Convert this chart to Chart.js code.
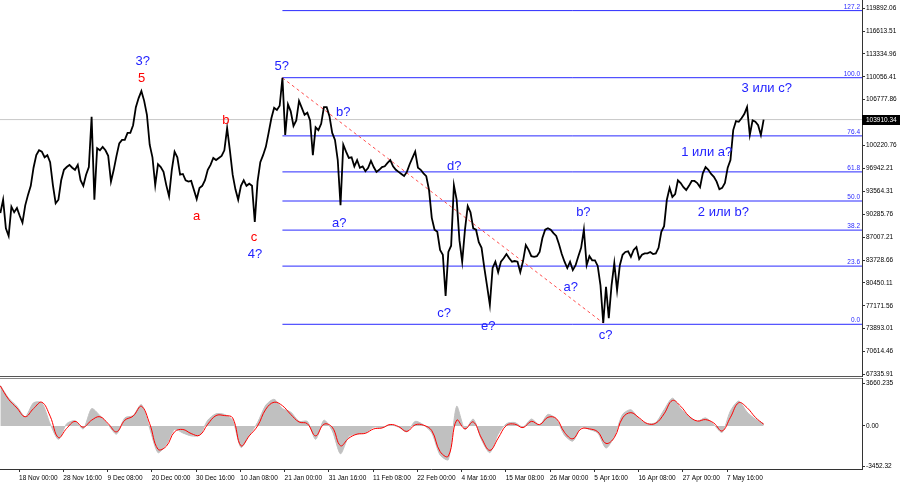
<!DOCTYPE html>
<html>
<head>
<meta charset="utf-8">
<script src="https://cdn.jsdelivr.net/npm/chart.js@4.4.0/dist/chart.umd.min.js"></script>
<style>
  body { margin: 0; background: #fff; width: 900px; height: 485px; overflow: hidden; position: relative; }
  #priceBox { position: absolute; left: 0; top: 0; width: 900px; height: 378px; }
  #oscBox { position: absolute; left: 0; top: 378px; width: 900px; height: 107px; }
</style>
</head>
<body>
<div id="priceBox"><canvas id="priceChart"></canvas></div>
<div id="oscBox"><canvas id="oscChart"></canvas></div>
<script>
// time is counted in hours from 18 Nov 00:00
const priceStartHour = -108;
const priceStep = 16;
const prices = [
  90500, 92400, 88300, 87200, 91400, 90600, 91200, 90100, 89100, 91600,
  93100, 94400, 97000, 98800, 99500, 99300, 98500, 98800, 97800, 94500,
  91900, 92400, 95200, 96700, 97100, 97400, 97000, 96700, 97400, 95200,
  94400, 96000, 97100, 104300, 92400, 99800, 99500, 100000, 99500, 98700,
  95000, 96700, 98700, 100500, 101000, 101000, 102000, 102000, 103100, 105700,
  107000, 108000, 106600, 104600, 100300, 98500, 94500, 97500, 97100, 96400,
  94500, 92900, 96700, 99300, 98500, 96000, 96100, 95200, 95000, 95100,
  93800, 92500, 94100, 94400, 95200, 96700, 97400, 98400, 98100, 98400,
  98700, 99500, 102700, 99500, 96000, 93900, 92400, 94400, 95200, 94400,
  94700, 94400, 89200, 95000, 97800, 98800, 100000, 102000, 104100, 105600,
  105300, 105900, 109900, 101700, 106100, 105100, 103000, 103800, 106600, 105600,
  104600, 104900, 103800, 98800, 102800, 102400, 103300, 105700, 105700, 104400,
  102000, 101000, 98100, 91600, 100300, 99300, 98400, 98500, 97200, 98100,
  97000, 97200, 96500, 97000, 98000, 97100, 96400, 96700, 97100, 97200,
  97700, 98100, 97200, 96700, 96400, 96100, 95800, 96400, 97500, 98400,
  99300, 97000, 96700, 96200, 95800, 93800, 89800, 88100, 87800, 85200,
  84500, 78600, 84900, 85800, 94500, 92400, 86600, 83500, 88100, 91500,
  90600, 88300, 88100, 86300, 85500, 82600, 80000, 77300, 82600, 83500,
  82000, 83500, 84000, 84600, 84000, 83500, 83600, 83500, 82000, 83600,
  85900, 85200, 84300, 84200, 84300, 84900, 86900, 88100, 88300, 88100,
  87600, 87200, 86000, 84600, 83500, 82600, 83500, 82300, 83000, 84300,
  85500, 88100, 83000, 84300, 83700, 83700, 82900, 80100, 74700, 79900,
  75400, 80100, 83300, 79400, 83000, 84500, 84900, 85000, 84200, 85200,
  85600, 83900, 84500, 84700, 84700, 84900, 84600, 84700, 85500, 87800,
  88600, 92400, 94100, 92800, 93200, 95200, 94800, 94200, 93800, 94400,
  95100, 95100, 94800, 94200, 96200, 97100, 96700, 96100, 95700, 95000,
  93900, 94100, 94800, 97000, 98100, 102400, 103700, 103600, 104100, 104700,
  105700, 101700, 103800, 103600, 103100, 101700, 103900
];
const currentPrice = 103910.34;

const oscStartHour = -108;
const oscStep = 48;
const macdMain = [
  3500, 2400, 1700, 800, 2000, 2000, 200, -1150, 200, 450,
  -250, 1500, 900, 100, -700, 700, 900, 1850, -200, -2300,
  -1600, -300, -600, -850, -800, 500, 1050, 1000, 500, -1850,
  -800, 300, 1800, 2300, 1500, 1200, 400, 400, -1150, 500,
  -400, -2400, -900, -700, -600, -100, -150, 100, -100, -500,
  400, 100, -600, -2500, -2900, 1700, -300, 600, -1200, -2300,
  -700, 200, 300, -100, 600, 100, 1000, 600, -800, -1300,
  -100, -300, -600, -1900, -900, 1000, 1400, 600, 200, 300,
  1400, 2400, 1500, 800, 400, 700, 100, -550, 1300, 2150,
  1200, 600, 200
];
const macdSignal = [
  3450, 2300, 1550, 800, 1500, 2050, 850, -1000, -200, 400,
  -100, 500, 800, 200, -500, 500, 850, 1700, 200, -2000,
  -1750, -500, -300, -650, -800, 150, 900, 900, 700, -1700,
  -850, 0, 1450, 2050, 1750, 1000, 350, 200, -850, 150,
  -100, -1700, -1050, -700, -630, -250, -170, 130, -50, -470,
  100, 70, -400, -2200, -2600, 500, -250, 350, -1050, -2100,
  -1050, 50, 160, -140, 400, 120, 750, 650, -550, -1100,
  -250, -250, -500, -1500, -1000, 700, 1150, 700, 200, 240,
  1050, 2200, 1700, 850, 430, 550, 250, -430, 750, 2010,
  1580, 750, 150
];

const timeLabelStep = 256;
const timeLabels = [
  "18 Nov 00:00", "28 Nov 16:00", "9 Dec 08:00", "20 Dec 00:00", "30 Dec 16:00",
  "10 Jan 08:00", "21 Jan 00:00", "31 Jan 16:00", "11 Feb 08:00", "22 Feb 00:00",
  "4 Mar 16:00", "15 Mar 08:00", "26 Mar 00:00", "5 Apr 16:00", "16 Apr 08:00",
  "27 Apr 00:00", "7 May 16:00"
];

const priceTicks = [
  119892.06, 116613.51, 113334.96, 110056.41, 106777.86, 103499.31, 100220.76, 96942.21,
  93564.31, 90285.76, 87007.21, 83728.66, 80450.11, 77171.56, 73893.01, 70614.46, 67335.91
];
const oscTicks = [3660.235, 0, -3452.32];
const oscTickLabels = ["3660.235", "0.00", "-3452.32"];

const fibNames = ["0.0", "23.6", "38.2", "50.0", "61.8", "76.4", "100.0", "127.2"];
const fibPrices = [74516, 82870, 88040, 92220, 96400, 101570, 109926, 119560];

// wave marks: text, hour, price, colour
const waveLabels = [
  ["3?", 716, 112220, "blue"], ["5", 710, 109840, "red"], ["b", 1196, 103850, "red"],
  ["a", 1028, 89970, "red"], ["c", 1360, 86950, "red"], ["4?", 1365, 84570, "blue"],
  ["5?", 1520, 111510, "blue"], ["b?", 1876, 104900, "blue"], ["a?", 1853, 89020, "blue"],
  ["d?", 2518, 97150, "blue"], ["c?", 2459, 76090, "blue"], ["e?", 2715, 74170, "blue"],
  ["b?", 3265, 90540, "blue"], ["a?", 3192, 79770, "blue"], ["c?", 3393, 72980, "blue"],
  ["3 или c?", 4326, 108400, "blue"], ["1 или a?", 3979, 99160, "blue"], ["2 или b?", 4075, 90540, "blue"]
];

const xMin = -110;
const xMax = 4877;
const axisWidth = 38;
const smallFont = { family: "Liberation Sans", size: 6.5 };
const BLUE = "#2a2aff";

Chart.defaults.font.family = "Liberation Sans";
Chart.defaults.color = "#000";

const hourOf = i => priceStartHour + i * priceStep;
const topIdx = prices.indexOf(Math.max(...prices));
const lowIdx = prices.indexOf(Math.min(...prices));

// keep the axes from adding room for their labels
function fitSide(s) {
  s.width = axisWidth;
  s.paddingTop = 0;
  s.paddingBottom = 0;
}
function fitBottom(s) {
  s.height = 16;
  s.paddingLeft = 0;
  s.paddingRight = 0;
}

const datasets = [{
  data: prices.map((p, i) => ({ x: hourOf(i), y: p })),
  borderColor: "#000", borderWidth: 1.8, pointRadius: 0, tension: 0
}, {
  data: [{ x: hourOf(topIdx), y: prices[topIdx] }, { x: hourOf(lowIdx), y: prices[lowIdx] }],
  borderColor: "#ff4d4d", borderWidth: 1, borderDash: [3, 3], pointRadius: 0
}, {
  data: [{ x: xMin, y: currentPrice }, { x: xMax, y: currentPrice }],
  borderColor: "#c8c8c8", borderWidth: 1, pointRadius: 0
}];
fibPrices.forEach(p => {
  datasets.push({
    data: [{ x: hourOf(topIdx), y: p }, { x: xMax, y: p }],
    borderColor: BLUE, borderWidth: 1, pointRadius: 0
  });
});

// text that sits on top of the price panel
const priceOverlay = {
  id: "priceOverlay",
  afterDatasetsDraw(chart) {
    const ctx = chart.ctx, area = chart.chartArea;
    const xs = chart.scales.x, ys = chart.scales.y;
    ctx.save();
    ctx.font = "6.5px 'Liberation Sans'";
    ctx.fillStyle = BLUE;
    ctx.textAlign = "right";
    ctx.textBaseline = "bottom";
    fibPrices.forEach((p, k) => {
      ctx.fillText(fibNames[k], area.right - 2, ys.getPixelForValue(p) - 0.5);
    });
    ctx.font = "13px 'Liberation Sans'";
    ctx.textAlign = "center";
    ctx.textBaseline = "middle";
    waveLabels.forEach(([t, h, p, c]) => {
      ctx.fillStyle = c === "red" ? "#ff0000" : "#2222ff";
      ctx.fillText(t, xs.getPixelForValue(h), ys.getPixelForValue(p));
    });
    // bottom border of the panel
    ctx.strokeStyle = "#555";
    ctx.lineWidth = 1;
    ctx.beginPath();
    ctx.moveTo(0, area.bottom + 0.5);
    ctx.lineTo(area.right, area.bottom + 0.5);
    ctx.stroke();
    ctx.restore();
  },
  afterDraw(chart) {
    const ctx = chart.ctx, area = chart.chartArea;
    const y = Math.round(chart.scales.y.getPixelForValue(currentPrice));
    ctx.save();
    ctx.fillStyle = "#000";
    ctx.fillRect(area.right, y - 5, axisWidth, 10);
    ctx.fillStyle = "#fff";
    ctx.font = "6.5px 'Liberation Sans'";
    ctx.textAlign = "left";
    ctx.textBaseline = "middle";
    ctx.fillText(currentPrice.toFixed(2), area.right + 4, y);
    ctx.restore();
  }
};

new Chart(document.getElementById("priceChart"), {
  type: "line",
  data: { datasets },
  options: {
    responsive: true, maintainAspectRatio: false, animation: false,
    layout: { padding: { top: 0, left: 0, right: 0, bottom: 2 } },
    plugins: { legend: { display: false }, tooltip: { enabled: false } },
    scales: {
      x: { type: "linear", min: xMin, max: xMax, display: false },
      y: {
        position: "right", min: 67090, max: 121084,
        afterFit: fitSide,
        afterBuildTicks: s => { s.ticks = priceTicks.map(v => ({ value: v })); },
        grid: { drawOnChartArea: false, tickLength: 3, color: "#333" },
        border: { color: "#333" },
        ticks: {
          autoSkip: false, padding: 1, font: smallFont, color: "#000",
          callback: (v, i) => priceTicks[i].toFixed(2)
        }
      }
    }
  },
  plugins: [priceOverlay]
});

const oscHour = j => oscStartHour + j * oscStep;

const oscBorder = {
  id: "oscBorder",
  afterDraw(chart) {
    const ctx = chart.ctx, area = chart.chartArea;
    ctx.save();
    ctx.strokeStyle = "#888";
    ctx.beginPath();
    ctx.moveTo(0, area.top + 0.5);
    ctx.lineTo(area.right, area.top + 0.5);
    ctx.stroke();
    ctx.restore();
  }
};

new Chart(document.getElementById("oscChart"), {
  type: "line",
  data: {
    datasets: [{
      data: macdSignal.map((v, j) => ({ x: oscHour(j), y: v })),
      borderColor: "#ff0000", borderWidth: 1, pointRadius: 0, tension: 0.4
    }, {
      data: macdMain.map((v, j) => ({ x: oscHour(j), y: v })),
      borderColor: "#c0c0c0", backgroundColor: "#c0c0c0", borderWidth: 1,
      fill: "origin", pointRadius: 0, tension: 0.25
    }]
  },
  options: {
    responsive: true, maintainAspectRatio: false, animation: false,
    layout: { padding: 0 },
    plugins: { legend: { display: false }, tooltip: { enabled: false } },
    scales: {
      x: {
        type: "linear", min: xMin, max: xMax,
        afterFit: fitBottom,
        afterBuildTicks: s => { s.ticks = timeLabels.map((t, k) => ({ value: k * timeLabelStep })); },
        grid: { drawOnChartArea: false, tickLength: 3, color: "#333" },
        border: { color: "#333" },
        ticks: {
          autoSkip: false, maxRotation: 0, align: "start", padding: 2,
          font: smallFont, color: "#000",
          callback: (v, i) => timeLabels[i]
        }
      },
      y: {
        position: "right", min: -3707, max: 4138,
        afterFit: fitSide,
        afterBuildTicks: s => { s.ticks = oscTicks.map(v => ({ value: v })); },
        grid: { drawOnChartArea: false, tickLength: 3, color: "#333" },
        border: { color: "#333" },
        ticks: {
          autoSkip: false, padding: 1, font: smallFont, color: "#000",
          callback: (v, i) => oscTickLabels[i]
        }
      }
    }
  },
  plugins: [oscBorder]
});
</script>
</body>
</html>
